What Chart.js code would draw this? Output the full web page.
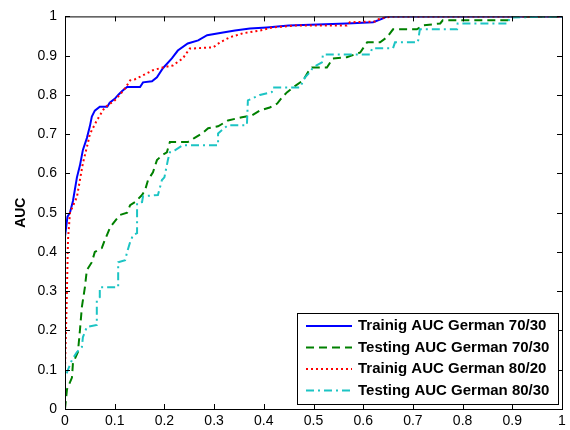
<!DOCTYPE html>
<html>
<head>
<meta charset="utf-8">
<script src="https://cdn.jsdelivr.net/npm/chart.js@4"></script>
<style>
  body { margin: 0; background: #fff; }
  #wrap { width: 570px; height: 430px; }
</style>
</head>
<body>
<div id="wrap"><canvas id="graficoAUC" width="570" height="430"></canvas></div>
<script>
// Dados (eixo x de 0 a 1, AUC de 0 a 1)
const rotulos = ['Trainig AUC German 70/30', 'Testing AUC German 70/30', 'Trainig AUC German 80/20', 'Testing AUC German 80/30'];
const marcasEixo = [0, 0.1, 0.2, 0.3, 0.4, 0.5, 0.6, 0.7, 0.8, 0.9, 1];

const treino7030X = [0, 0, 0.005, 0.01, 0.016, 0.024, 0.03, 0.036, 0.044, 0.05, 0.054, 0.06, 0.07, 0.085, 0.09, 0.1, 0.107, 0.115, 0.125, 0.151, 0.157, 0.175, 0.185, 0.197, 0.215, 0.227, 0.247, 0.268, 0.286, 0.318, 0.342, 0.372, 0.406, 0.45, 0.567, 0.62, 0.64, 0.648, 1];
const treino7030Y = [0, 0.44, 0.49, 0.5, 0.53, 0.59, 0.62, 0.66, 0.69, 0.72, 0.745, 0.76, 0.77, 0.77, 0.78, 0.79, 0.8, 0.81, 0.82, 0.82, 0.832, 0.835, 0.845, 0.868, 0.893, 0.913, 0.931, 0.939, 0.952, 0.959, 0.964, 0.969, 0.972, 0.977, 0.982, 0.985, 0.995, 1, 1];

const teste7030X = [0, 0.004, 0.014, 0.016, 0.026, 0.03, 0.034, 0.04, 0.044, 0.054, 0.06, 0.074, 0.08, 0.09, 0.097, 0.11, 0.125, 0.131, 0.141, 0.155, 0.161, 0.167, 0.177, 0.185, 0.195, 0.205, 0.211, 0.247, 0.26, 0.276, 0.288, 0.308, 0.328, 0.356, 0.376, 0.392, 0.412, 0.427, 0.437, 0.447, 0.459, 0.479, 0.489, 0.497, 0.527, 0.539, 0.567, 0.594, 0.608, 0.634, 0.648, 0.66, 0.708, 0.72, 0.755, 0.76, 0.895, 0.9, 1];
const teste7030Y = [0, 0.05, 0.08, 0.117, 0.145, 0.2, 0.26, 0.31, 0.354, 0.374, 0.4, 0.41, 0.43, 0.46, 0.473, 0.494, 0.5, 0.519, 0.527, 0.545, 0.557, 0.583, 0.603, 0.634, 0.646, 0.654, 0.68, 0.68, 0.69, 0.702, 0.715, 0.72, 0.735, 0.743, 0.748, 0.76, 0.768, 0.778, 0.794, 0.807, 0.819, 0.837, 0.858, 0.87, 0.87, 0.893, 0.896, 0.908, 0.934, 0.934, 0.947, 0.967, 0.967, 0.977, 0.982, 0.99, 0.99, 1, 1];

const treino8020X = [0, 0, 0.002, 0.004, 0.006, 0.01, 0.024, 0.036, 0.046, 0.05, 0.064, 0.08, 0.1, 0.11, 0.121, 0.131, 0.141, 0.157, 0.177, 0.197, 0.217, 0.237, 0.251, 0.298, 0.312, 0.332, 0.358, 0.392, 0.418, 0.467, 0.567, 0.573, 0.624, 0.634, 0.66, 1];
const treino8020Y = [0, 0.1, 0.2, 0.31, 0.43, 0.5, 0.54, 0.626, 0.677, 0.7, 0.735, 0.768, 0.786, 0.8, 0.817, 0.837, 0.84, 0.85, 0.863, 0.87, 0.875, 0.893, 0.918, 0.921, 0.934, 0.947, 0.957, 0.964, 0.972, 0.977, 0.977, 0.985, 0.987, 0.995, 1, 1];

const teste8030X = [0, 0, 0.006, 0.014, 0.024, 0.034, 0.036, 0.044, 0.064, 0.064, 0.07, 0.07, 0.107, 0.107, 0.121, 0.125, 0.131, 0.137, 0.145, 0.145, 0.155, 0.157, 0.187, 0.195, 0.2, 0.207, 0.211, 0.221, 0.237, 0.308, 0.308, 0.328, 0.366, 0.368, 0.392, 0.416, 0.418, 0.473, 0.483, 0.493, 0.499, 0.517, 0.519, 0.614, 0.618, 0.66, 0.664, 0.71, 0.714, 0.789, 0.79, 0.891, 0.895, 1];
const teste8030Y = [0, 0.08, 0.1, 0.125, 0.145, 0.158, 0.183, 0.209, 0.214, 0.277, 0.285, 0.31, 0.31, 0.374, 0.379, 0.4, 0.425, 0.443, 0.448, 0.524, 0.527, 0.542, 0.545, 0.583, 0.59, 0.634, 0.654, 0.659, 0.672, 0.672, 0.702, 0.723, 0.723, 0.786, 0.8, 0.807, 0.819, 0.819, 0.845, 0.858, 0.87, 0.883, 0.903, 0.903, 0.919, 0.919, 0.934, 0.934, 0.967, 0.967, 0.982, 0.982, 0.997, 1];

// junta os arrays x e y em pontos
function pontos(xs, ys) {
    return xs.map((x, i) => ({ x: x, y: ys[i] }));
}

// caixa do eixo e marcas para dentro (estilo MATLAB)
const caixaEixos = {
    id: 'caixaEixos',
    afterDatasetsDraw(chart) {
        const { ctx, chartArea: a, scales } = chart;
        ctx.save();
        ctx.strokeStyle = '#000';
        ctx.lineWidth = 1;
        ctx.strokeRect(a.left + 0.5, a.top + 0.5, a.right - a.left, a.bottom - a.top);
        ctx.beginPath();
        marcasEixo.forEach(v => {
            const px = Math.round(scales.x.getPixelForValue(v)) + 0.5;
            ctx.moveTo(px, a.bottom); ctx.lineTo(px, a.bottom - 5);
            ctx.moveTo(px, a.top); ctx.lineTo(px, a.top + 5);
            const py = Math.round(scales.y.getPixelForValue(v)) + 0.5;
            ctx.moveTo(a.left, py); ctx.lineTo(a.left + 5, py);
            ctx.moveTo(a.right, py); ctx.lineTo(a.right - 5, py);
        });
        ctx.stroke();
        ctx.restore();
    }
};

// legenda desenhada dentro da área do gráfico
const legendaInterna = {
    id: 'legendaInterna',
    afterDraw(chart) {
        const ctx = chart.ctx;
        const caixa = { x: 297, y: 313, w: 261, h: 91 };
        ctx.save();
        ctx.fillStyle = '#fff';
        ctx.fillRect(caixa.x, caixa.y, caixa.w, caixa.h);
        ctx.strokeStyle = '#000';
        ctx.lineWidth = 1;
        ctx.strokeRect(caixa.x + 0.5, caixa.y + 0.5, caixa.w, caixa.h);
        ctx.font = 'bold 15px Arial, "Liberation Sans"';
        ctx.textBaseline = 'middle';
        chart.data.datasets.forEach((ds, i) => {
            const y = caixa.y + 13 + i * 21.5;
            ctx.strokeStyle = ds.borderColor;
            ctx.lineWidth = 2;
            ctx.setLineDash(ds.borderDash || []);
            ctx.beginPath();
            ctx.moveTo(306, y);
            ctx.lineTo(352, y);
            ctx.stroke();
            ctx.setLineDash([]);
            ctx.fillStyle = '#000';
            ctx.fillText(ds.label, 358, y);
        });
        ctx.restore();
    }
};

Chart.defaults.font.family = 'Arial, "Liberation Sans"';
Chart.defaults.font.size = 14;
Chart.defaults.color = '#000';

const ctx = document.getElementById('graficoAUC').getContext('2d');
new Chart(ctx, {
    type: 'line',
    data: {
        datasets: [
            { label: rotulos[0], data: pontos(treino7030X, treino7030Y), borderColor: '#0000ff', borderWidth: 2, order: 4 },
            { label: rotulos[1], data: pontos(teste7030X, teste7030Y), borderColor: '#008000', borderWidth: 2, borderDash: [8, 5], order: 3 },
            { label: rotulos[2], data: pontos(treino8020X, treino8020Y), borderColor: '#ff0000', borderWidth: 2, borderDash: [2, 3], order: 2 },
            { label: rotulos[3], data: pontos(teste8030X, teste8030Y), borderColor: '#1cc4c4', borderWidth: 2, borderDash: [8, 4, 2, 4], order: 1 }
        ]
    },
    options: {
        responsive: false,
        animation: false,
        layout: { padding: { top: 16, right: 8, left: 0, bottom: 0 } },
        elements: { point: { radius: 0 }, line: { tension: 0, fill: false } },
        plugins: { legend: { display: false }, tooltip: { enabled: false } },
        scales: {
            x: {
                type: 'linear', min: 0, max: 1,
                afterBuildTicks: s => { s.ticks = marcasEixo.map(v => ({ value: v })); },
                afterFit: s => { s.height = 21; },
                grid: { display: false, drawTicks: false },
                border: { display: false },
                ticks: { padding: 4, maxRotation: 0, callback: v => +v.toFixed(1) }
            },
            y: {
                type: 'linear', min: 0, max: 1,
                afterBuildTicks: s => { s.ticks = marcasEixo.map(v => ({ value: v })); },
                afterFit: s => { s.width = 65; },
                grid: { display: false, drawTicks: false },
                border: { display: false },
                ticks: { padding: 8, callback: v => +v.toFixed(1) },
                title: { display: true, text: 'AUC', font: { weight: 'bold', size: 14 }, padding: { top: 13, bottom: 0 } }
            }
        }
    },
    plugins: [caixaEixos, legendaInterna]
});
</script>
</body>
</html>
